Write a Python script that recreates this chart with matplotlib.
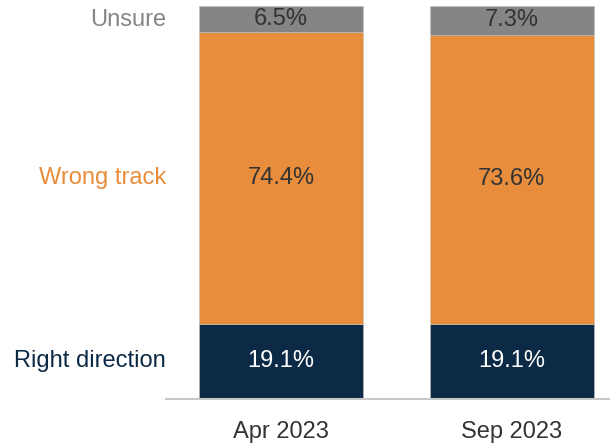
import matplotlib.pyplot as plt

periods = ['Apr 2023', 'Sep 2023']
right_direction = [19.1, 19.1]
wrong_track = [74.4, 73.6]
unsure = [6.5, 7.3]

plt.rcParams['font.family'] = ['Liberation Sans', 'DejaVu Sans']

navy = '#0c2a45'
orange = '#e88d3b'
grey = '#858585'

fig = plt.figure(figsize=(6.1, 4.44), dpi=100)
ax = fig.add_axes([166 / 610, 45 / 444, 444 / 610, 393 / 444])

x = range(len(periods))
w = 0.711
bottoms2 = right_direction
bottoms3 = [a + b for a, b in zip(right_direction, wrong_track)]

ax.bar(x, right_direction, w, color=navy, edgecolor='#c0c0c0', linewidth=0.4)
ax.bar(x, wrong_track, w, bottom=bottoms2, color=orange, edgecolor='#c0c0c0', linewidth=0.4)
ax.bar(x, unsure, w, bottom=bottoms3, color=grey, edgecolor='#c0c0c0', linewidth=0.4)

for i in x:
    ax.text(i, right_direction[i] / 2, f'{right_direction[i]}%', ha='center', va='center',
            color='white', fontsize=17)
    ax.text(i, bottoms2[i] + wrong_track[i] / 2, f'{wrong_track[i]}%', ha='center', va='center',
            color='#333333', fontsize=17)
    ax.text(i, bottoms3[i] + unsure[i] / 2, f'{unsure[i]}%', ha='center', va='center',
            color='#333333', fontsize=17)

# series labels to the left of the bars
ax.text(-0.5, bottoms3[0] + unsure[0] / 2 - 0.3, 'Unsure', ha='right', va='center',
        color=grey, fontsize=17)
ax.text(-0.5, bottoms2[0] + wrong_track[0] / 2, 'Wrong track', ha='right', va='center',
        color=orange, fontsize=17)
ax.text(-0.5, right_direction[0] / 2, 'Right direction', ha='right', va='center',
        color=navy, fontsize=17)

ax.set_xlim(-0.499, 1.427)
ax.set_ylim(0, 100)
ax.set_xticks(list(x))
ax.set_xticklabels(periods, fontsize=17, color='#333333')
ax.tick_params(axis='x', length=0, pad=16)
ax.set_yticks([])
for s in ['top', 'right', 'left']:
    ax.spines[s].set_visible(False)
ax.spines['bottom'].set_color('#c8c8c8')
ax.spines['bottom'].set_linewidth(1.5)

fig.savefig('out.png', dpi=100)
